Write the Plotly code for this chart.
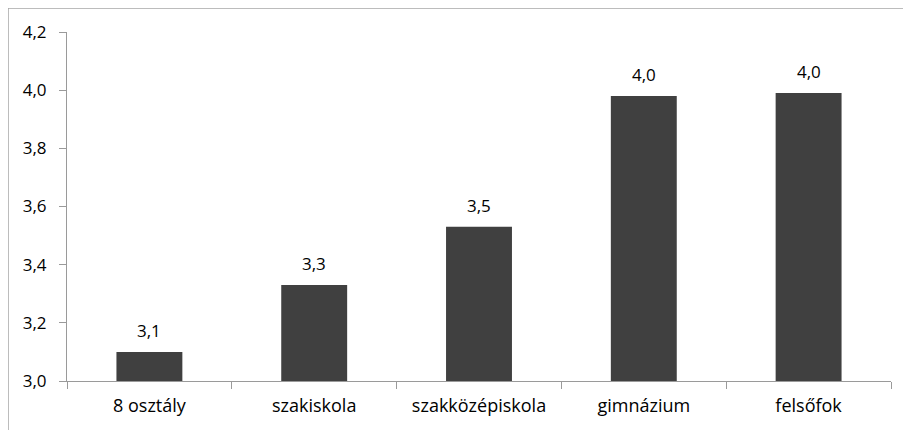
import plotly.graph_objects as go

# school level vs. average value
categories = ["8 osztály", "szakiskola", "szakközépiskola", "gimnázium", "felsőfok"]
values = [3.10, 3.33, 3.53, 3.98, 3.99]
y_ticks = [3.0, 3.2, 3.4, 3.6, 3.8, 4.0, 4.2]

font = "Open Sans, sans-serif"
axis_gray = "#9a9a9a"


def hu(v):
    return f"{v:.1f}".replace(".", ",")


fig = go.Figure()
fig.add_trace(go.Bar(x=categories, y=values, marker=dict(color="#404040", line=dict(width=0)),
                     width=0.4, hoverinfo="x+y"))

# value labels above bars
for c, v in zip(categories, values):
    fig.add_annotation(x=c, y=v, text=hu(v), showarrow=False, yanchor="bottom", yshift=8,
                       font=dict(family=font, size=17, color="#000000"))

fig.update_xaxes(showline=True, linecolor=axis_gray, linewidth=1, ticks="outside", tickson="boundaries",
                 ticklen=7, tickcolor=axis_gray, ticklabelstandoff=8,
                 tickfont=dict(family=font, size=18, color="#000000"), showgrid=False)
fig.update_yaxes(range=[3.0, 4.2], tickvals=y_ticks, ticktext=[hu(t) for t in y_ticks], showline=True,
                 linecolor=axis_gray, linewidth=1, ticks="outside", ticklen=7, tickcolor=axis_gray,
                 ticklabelstandoff=9, tickfont=dict(family=font, size=17, color="#000000"),
                 showgrid=False, zeroline=False)

# chart frame (only top and left edges visible)
fig.add_shape(type="line", xref="paper", yref="paper", x0=-0.0716, x1=1.03, y0=1.0688, y1=1.0688,
              line=dict(color="#a6a6a6", width=1.5))
fig.add_shape(type="line", xref="paper", yref="paper", x0=-0.0716, x1=-0.0716, y0=1.0688, y1=-0.2,
              line=dict(color="#a6a6a6", width=1.5))

# page has an 8px body margin, so the figure is 8px smaller than the window
fig.update_layout(width=903, height=422, margin=dict(l=59, r=20, t=24, b=49),
                  plot_bgcolor="white", paper_bgcolor="white", showlegend=False, bargap=0.6)

fig.write_html("out.html")
